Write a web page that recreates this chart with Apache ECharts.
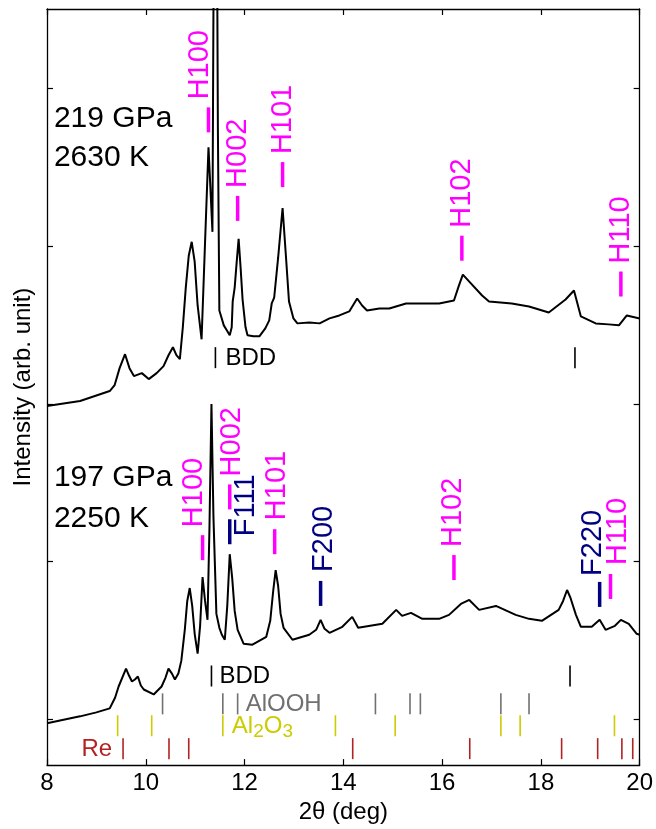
<!DOCTYPE html>
<html>
<head>
<meta charset="utf-8">
<script src="https://cdn.jsdelivr.net/npm/echarts@6.0.0/dist/echarts.min.js"></script>
<style>
  html, body { margin: 0; padding: 0; background: #fff; }
  #main { width: 656px; height: 829px; }
</style>
</head>
<body>
<div id="main"></div>
<script>
// 2theta (deg) / intensity (arb. unit)
var topTheta = [
  8.00, 8.67, 9.27, 9.37, 9.47, 9.58, 9.67, 9.76, 9.92, 10.06,
  10.22, 10.36, 10.46, 10.55, 10.62, 10.69, 10.75, 10.81, 10.87, 10.93,
  10.99, 11.05, 11.13, 11.20, 11.27, 11.35, 11.41, 11.46, 11.49, 11.58,
  11.64, 11.70, 11.74, 11.76, 11.80, 11.84, 11.88, 11.92, 11.96, 12.02,
  12.06, 12.18, 12.30, 12.42, 12.50, 12.55, 12.60, 12.68, 12.77, 12.84,
  12.90, 12.99, 13.07, 13.31, 13.52, 13.72, 13.92, 14.12, 14.28, 14.38,
  14.48, 14.73, 14.93, 15.27, 15.60, 15.94, 16.24, 16.34, 16.42, 16.55,
  16.81, 16.95, 17.41, 17.76, 18.16, 18.50, 18.67, 18.81, 19.11, 19.37,
  19.58, 19.74, 20.00
];
var topIntensity = [
  361, 366, 376, 382, 399, 413, 399, 391, 394, 388,
  394, 401, 412, 420, 412, 408, 440, 480, 512, 526,
  506, 462, 428, 525, 621, 536, 1200, 640, 457, 442,
  437, 432, 440, 466, 480, 505, 529, 500, 468, 440,
  432, 431, 431, 439, 447, 464, 470, 510, 560, 510,
  466, 449, 444, 445, 444, 449, 452, 456, 469, 462,
  457, 459, 459, 464, 464, 464, 467, 482, 493, 486,
  472, 466, 464, 461, 455, 468, 477, 451, 444, 443,
  442, 452, 449
];

var bottomTheta = [
  8.00, 8.67, 9.00, 9.27, 9.38, 9.45, 9.60, 9.66, 9.72, 9.78,
  9.84, 9.90, 9.96, 10.16, 10.32, 10.40, 10.46, 10.53, 10.59, 10.66,
  10.72, 10.79, 10.84, 10.89, 10.94, 10.99, 11.05, 11.10, 11.15, 11.20,
  11.25, 11.29, 11.33, 11.37, 11.43, 11.49, 11.54, 11.60, 11.65, 11.70,
  11.75, 11.80, 11.86, 11.98, 12.16, 12.44, 12.52, 12.58, 12.63, 12.68,
  12.73, 12.79, 12.97, 13.31, 13.45, 13.54, 13.62, 13.72, 13.98, 14.18,
  14.30, 14.79, 15.07, 15.19, 15.37, 15.60, 15.94, 16.14, 16.38, 16.55,
  16.75, 17.09, 17.49, 17.76, 18.02, 18.36, 18.45, 18.53, 18.60, 18.71,
  18.81, 19.03, 19.19, 19.31, 19.50, 19.62, 19.78, 19.94, 20.00
];
var bottomIntensity = [
  42, 49, 53, 57, 68, 79, 97, 90, 84, 86,
  89, 80, 76, 71, 79, 88, 97, 92, 86, 92,
  105, 136, 165, 178, 160, 132, 112, 140, 189, 165,
  146, 240, 363, 250, 152, 138, 131, 126, 160, 212,
  188, 155, 136, 122, 121, 129, 145, 175, 196, 180,
  152, 138, 126, 131, 136, 146, 137, 133, 139, 149,
  138, 142, 156, 150, 153, 147, 147, 151, 162, 166,
  156, 160, 151, 147, 145, 156, 165, 176, 168, 151,
  139, 139, 146, 136, 140, 146, 142, 132, 131
];

// peak markers: name, 2theta, intensity level where the marker starts
var topPeakNames = ['H100', 'H002', 'H101', 'H102', 'H110'];
var topPeakTheta = [11.27, 11.86, 12.77, 16.40, 19.62];
var topPeakLevel = [636, 547, 581, 507, 471];

var bottomPeakNames = ['H100', 'H002', 'F111', 'H101', 'F200', 'H102', 'F220', 'H110'];
var bottomPeakTheta = [11.15, 11.70, 11.70, 12.61, 13.54, 16.24, 19.19, 19.41];
var bottomPeakLevel = [206, 257, 222, 212, 160, 186, 159, 167];

// reference phase lines
var bddTopTheta = [11.41, 18.69];
var bddBottomTheta = [11.33, 18.59];
var aloohTheta = [10.34, 11.56, 11.86, 14.65, 15.35, 15.56, 17.19, 17.76];
var al2o3Theta = [9.43, 10.12, 11.56, 13.84, 15.05, 17.19, 17.58, 19.49];
var reTheta = [9.54, 10.47, 10.87, 14.19, 16.56, 18.42, 19.15, 19.64, 19.86];

var conditionText = ['219 GPa', '2630 K', '197 GPa', '2250 K'];
var yTicks = [46, 205, 363, 522, 680];

var FONT = '"Liberation Sans", Arial, Helvetica, sans-serif';
var MAGENTA = '#ff00ff';
var NAVY = '#000080';

// small nudges (px) for the rotated peak labels: [dx, dy from marker bottom]
var topNudge = { H100: [-8, -33] };
var bottomNudge = {
  H100: [-9, -33], H002: [2, -33], F111: [16, -8], H101: [2, -34],
  F200: [3, -34], H102: [-1, -33], F220: [-7, -31], H110: [7, -34]
};

function zip(a, b) {
  return a.map(function (v, i) { return [v, b[i]]; });
}

function peakRenderer(names, nudge) {
  return function (params, api) {
    var name = names[params.dataIndex];
    var p = api.coord([api.value(0), api.value(1)]);
    var color = name.charAt(0) === 'H' ? MAGENTA : NAVY;
    var n = nudge[name] || [0, -33];
    return {
      type: 'group',
      children: [
        {
          type: 'line',
          shape: { x1: p[0], y1: p[1], x2: p[0], y2: p[1] - 25 },
          style: { stroke: color, lineWidth: 3.5 }
        },
        {
          type: 'text',
          x: p[0] + n[0],
          y: p[1] + n[1],
          rotation: Math.PI / 2,
          style: {
            text: name, fill: color, fontSize: 29, fontFamily: FONT,
            align: 'left', verticalAlign: 'middle'
          }
        }
      ]
    };
  };
}

function phaseRenderer(cfg) {
  return function (params, api) {
    var p = api.coord([api.value(0), api.value(1)]);
    var kids = [{
      type: 'line',
      shape: { x1: p[0], y1: p[1], x2: p[0], y2: p[1] - 21 },
      style: { stroke: cfg.color, lineWidth: 1.6 }
    }];
    if (cfg.label && params.dataIndex === cfg.labelAt) {
      kids.push({
        type: 'text',
        x: p[0] + cfg.dx,
        y: p[1] - 10,
        style: {
          text: cfg.label, fill: cfg.color, fontSize: 24, fontFamily: FONT,
          lineHeight: 30,
          align: cfg.dx > 0 ? 'left' : 'right', verticalAlign: 'middle',
          rich: {
            s: { fontSize: 19, lineHeight: 19, verticalAlign: 'bottom', fill: cfg.color, fontFamily: FONT }
          }
        }
      });
    }
    return { type: 'group', children: kids };
  };
}

function phaseSeries(theta, level, cfg) {
  return {
    type: 'custom',
    renderItem: phaseRenderer(cfg),
    data: theta.map(function (t) { return [t, level]; }),
    silent: true
  };
}

var myChart = echarts.init(document.getElementById('main'));

var axisLine = { show: true, onZero: false, lineStyle: { color: '#000', width: 1.3 } };
var tick = { show: true, inside: true, length: 6, lineStyle: { color: '#000', width: 1.2 } };

myChart.setOption({
  animation: false,
  backgroundColor: '#ffffff',
  grid: { left: 47, right: 15, top: 9, bottom: 60 },
  xAxis: [
    {
      type: 'value', min: 8, max: 20, interval: 2,
      name: '2θ (deg)', nameLocation: 'middle', nameGap: 33,
      nameTextStyle: { fontSize: 24, color: '#000', fontFamily: FONT },
      axisLine: axisLine, axisTick: tick,
      axisLabel: { fontSize: 24, color: '#000', fontFamily: FONT, margin: 6 },
      splitLine: { show: false }
    },
    {
      type: 'value', position: 'top', min: 8, max: 20, interval: 2,
      axisLine: axisLine, axisTick: tick,
      axisLabel: { show: false }, splitLine: { show: false }
    }
  ],
  yAxis: [
    {
      type: 'value', min: 0, max: 760,
      name: 'Intensity (arb. unit)', nameLocation: 'middle', nameGap: 12,
      nameTextStyle: { fontSize: 24, color: '#000', fontFamily: FONT },
      axisLine: axisLine,
      axisTick: Object.assign({ customValues: yTicks }, tick),
      axisLabel: { show: false, customValues: yTicks },
      splitLine: { show: false }
    },
    {
      type: 'value', position: 'right', min: 0, max: 760,
      axisLine: axisLine,
      axisTick: Object.assign({ customValues: yTicks }, tick),
      axisLabel: { show: false, customValues: yTicks },
      splitLine: { show: false }
    }
  ],
  series: [
    {
      name: '219 GPa, 2630 K', type: 'line', data: zip(topTheta, topIntensity),
      showSymbol: false, clip: true,
      lineStyle: { color: '#000', width: 2 }
    },
    {
      name: '197 GPa, 2250 K', type: 'line', data: zip(bottomTheta, bottomIntensity),
      showSymbol: false, clip: true,
      lineStyle: { color: '#000', width: 2 }
    },
    {
      type: 'custom', silent: true,
      renderItem: peakRenderer(topPeakNames, topNudge),
      data: zip(topPeakTheta, topPeakLevel)
    },
    {
      type: 'custom', silent: true,
      renderItem: peakRenderer(bottomPeakNames, bottomNudge),
      data: zip(bottomPeakTheta, bottomPeakLevel)
    },
    phaseSeries(bddTopTheta, 399, { color: '#000', label: 'BDD', labelAt: 0, dx: 10 }),
    phaseSeries(bddBottomTheta, 79, { color: '#000', label: 'BDD', labelAt: 0, dx: 8 }),
    phaseSeries(aloohTheta, 51, { color: '#707070', label: 'AlOOH', labelAt: 2, dx: 8 }),
    phaseSeries(al2o3Theta, 29, { color: '#cccc00', label: 'Al{s|2}O{s|3}', labelAt: 2, dx: 9 }),
    phaseSeries(reTheta, 6, { color: '#b22222', label: 'Re', labelAt: 0, dx: -11 }),
    {
      type: 'custom', silent: true,
      data: [[8.14, 650], [8.14, 610], [8.14, 289], [8.14, 248]],
      renderItem: function (params, api) {
        var p = api.coord([api.value(0), api.value(1)]);
        return {
          type: 'text', x: p[0], y: p[1],
          style: {
            text: conditionText[params.dataIndex], fill: '#000', fontSize: 30,
            fontFamily: FONT, align: 'left', verticalAlign: 'middle'
          }
        };
      }
    }
  ]
});
</script>
</body>
</html>
